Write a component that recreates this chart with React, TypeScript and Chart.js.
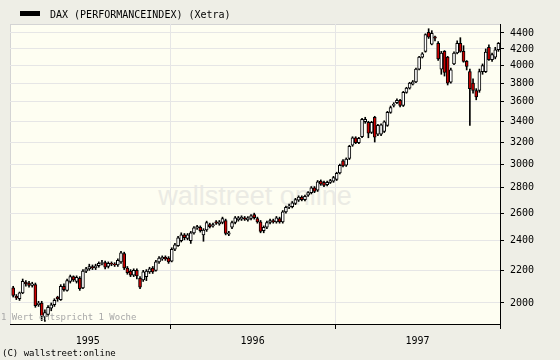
import React, { useEffect, useRef } from 'react';
import { Chart, registerables } from 'chart.js';

Chart.register(...registerables);

const chartTitle = 'DAX (PERFORMANCEINDEX) (Xetra)';
const noteText = '1 Wert entspricht 1 Woche';
const copyrightText = '(C) wallstreet:online';
const watermarkText = 'wallstreet online';

const yearLabels = ['1995', '1996', '1997'];
// week index (counted from the first week of 1995) where each year starts
const yearStartWeeks = [0, 52, 104, 156];
const priceTicks = [2000, 2200, 2400, 2600, 2800, 3000, 3200, 3400, 3600, 3800, 4000, 4200, 4400];

// first plotted week index; one candle = one week
const firstWeek = 2;

const opens = [
  2090, 2040, 2025, 2060, 2125, 2120, 2105, 2110, 1990, 2000,
  1920, 1935, 1970, 1990, 2035, 2020, 2100, 2075, 2130, 2160,
  2130, 2150, 2090, 2195, 2210, 2225, 2215, 2230, 2245, 2250,
  2225, 2245, 2240, 2235, 2255, 2310, 2215, 2195, 2170, 2200,
  2150, 2140, 2160, 2190, 2215, 2200, 2255, 2275, 2285, 2280,
  2260, 2340, 2365, 2400, 2440, 2415, 2400, 2455, 2490, 2495,
  2440, 2475, 2515, 2505, 2535, 2520, 2530, 2545, 2445, 2495,
  2530, 2550, 2555, 2565, 2550, 2560, 2590, 2560, 2535, 2470,
  2495, 2530, 2545, 2535, 2560, 2535, 2610, 2645, 2650, 2675,
  2700, 2725, 2705, 2740, 2760, 2800, 2780, 2855, 2845, 2825,
  2845, 2855, 2870, 2925, 3030, 2990, 3050, 3170, 3240, 3195,
  3250, 3395, 3390, 3290, 3440, 3275, 3275, 3300, 3360, 3490,
  3560, 3590, 3615, 3560, 3700, 3745, 3790, 3815, 3960, 4100,
  4170, 4410, 4260, 4350, 4270, 3960, 4170, 4100, 3810, 4020,
  4150, 4270, 4170, 4050, 3930, 3800, 3720, 3720, 3930, 3930,
  4220, 4070, 4100, 4190,
];

const closes = [
  2045, 2030, 2060, 2130, 2115, 2105, 2115, 1985, 2000, 1925,
  1945, 1975, 1990, 2015, 2025, 2100, 2080, 2135, 2160, 2140,
  2155, 2085, 2195, 2210, 2225, 2215, 2230, 2245, 2250, 2220,
  2245, 2240, 2235, 2265, 2315, 2215, 2185, 2170, 2200, 2165,
  2095, 2190, 2195, 2210, 2190, 2255, 2280, 2285, 2275, 2255,
  2340, 2370, 2420, 2440, 2420, 2440, 2455, 2490, 2500, 2470,
  2475, 2530, 2500, 2515, 2525, 2535, 2560, 2450, 2455, 2530,
  2565, 2565, 2570, 2555, 2565, 2580, 2565, 2535, 2465, 2495,
  2530, 2545, 2535, 2565, 2535, 2610, 2645, 2655, 2680, 2705,
  2725, 2705, 2730, 2760, 2800, 2770, 2850, 2830, 2820, 2845,
  2860, 2885, 2920, 2990, 2985, 3045, 3160, 3240, 3195, 3235,
  3420, 3420, 3285, 3390, 3245, 3360, 3365, 3395, 3490, 3540,
  3575, 3615, 3560, 3700, 3745, 3800, 3815, 3960, 4100, 4140,
  4380, 4345, 4395, 4335, 4080, 4150, 3920, 3800, 3950, 4150,
  4270, 4170, 4050, 3990, 3740, 3720, 3650, 3930, 4000, 4160,
  4070, 4130, 4190, 4270,
];

const highs = [
  2100, 2050, 2065, 2145, 2135, 2130, 2125, 2120, 2010, 2010,
  1960, 1985, 2000, 2025, 2040, 2110, 2115, 2145, 2170, 2165,
  2165, 2160, 2205, 2220, 2240, 2235, 2240, 2255, 2265, 2260,
  2255, 2255, 2250, 2275, 2325, 2320, 2225, 2205, 2210, 2210,
  2160, 2200, 2205, 2220, 2225, 2265, 2290, 2295, 2295, 2290,
  2350, 2380, 2430, 2455, 2450, 2450, 2465, 2500, 2510, 2505,
  2485, 2540, 2525, 2525, 2545, 2545, 2570, 2555, 2465, 2540,
  2575, 2575, 2580, 2575, 2575, 2590, 2600, 2570, 2545, 2505,
  2540, 2555, 2555, 2575, 2570, 2620, 2655, 2670, 2690, 2715,
  2735, 2735, 2740, 2770, 2810, 2810, 2860, 2865, 2855, 2855,
  2870, 2895, 2930, 3000, 3040, 3055, 3170, 3250, 3250, 3245,
  3430, 3440, 3400, 3400, 3450, 3370, 3375, 3405, 3500, 3555,
  3590, 3630, 3625, 3710, 3755, 3810, 3830, 3970, 4110, 4155,
  4390, 4455, 4430, 4360, 4290, 4170, 4180, 4110, 3970, 4165,
  4300, 4340, 4240, 4060, 3960, 3850, 3740, 3960, 4020, 4200,
  4250, 4150, 4220, 4280,
];

const lows = [
  2035, 2020, 2015, 2055, 2100, 2095, 2095, 1975, 1980, 1900,
  1895, 1925, 1955, 1980, 2010, 2015, 2070, 2070, 2120, 2130,
  2120, 2075, 2085, 2185, 2200, 2205, 2205, 2220, 2235, 2210,
  2215, 2230, 2225, 2225, 2245, 2205, 2175, 2160, 2160, 2145,
  2085, 2130, 2135, 2180, 2180, 2195, 2245, 2265, 2265, 2245,
  2255, 2330, 2360, 2390, 2405, 2405, 2380, 2445, 2480, 2460,
  2395, 2465, 2490, 2495, 2515, 2510, 2520, 2440, 2435, 2485,
  2520, 2540, 2545, 2545, 2540, 2550, 2555, 2525, 2455, 2455,
  2485, 2520, 2525, 2525, 2525, 2525, 2600, 2635, 2640, 2665,
  2690, 2695, 2695, 2730, 2750, 2760, 2770, 2820, 2810, 2815,
  2835, 2845, 2860, 2915, 2975, 2980, 3040, 3160, 3185, 3185,
  3240, 3380, 3240, 3280, 3200, 3260, 3260, 3290, 3350, 3480,
  3545, 3580, 3545, 3550, 3690, 3735, 3780, 3805, 3950, 4090,
  4160, 4330, 4250, 4300, 4060, 3900, 3880, 3780, 3800, 4010,
  4140, 4160, 4040, 3950, 3360, 3690, 3620, 3700, 3900, 3920,
  4060, 4050, 4080, 4170,
];

const mono = '"DejaVu Sans Mono", "Liberation Mono", monospace';
const gridColor = '#e6e6e6';
const downColor = '#cc0000';
const upColor = '#ffffff';

export default function App() {
  const canvasRef = useRef<HTMLCanvasElement | null>(null);

  useEffect(() => {
    document.body.style.margin = '0';
    const canvas = canvasRef.current;
    if (!canvas) return;

    const weeks = opens.map((_, i) => firstWeek + i);
    const boundaries = yearStartWeeks.slice(1).map((w) => w - 0.5);
    const mids = yearLabels.map((_, i) => (yearStartWeeks[i] + yearStartWeeks[i + 1]) / 2 - 0.5);
    const xTickValues = [...boundaries, ...mids].sort((a, b) => a - b);
    const isBoundary = (v: number) => boundaries.some((b) => Math.abs(b - v) < 1e-6);
    const labelFor = (v: number) => {
      const i = mids.findIndex((m) => Math.abs(m - v) < 1e-6);
      return i >= 0 ? yearLabels[i] : '';
    };

    const chart = new Chart(canvas, {
      type: 'bar',
      data: {
        datasets: [
          {
            label: 'range',
            data: weeks.map((w, i) => ({ x: w, y: [lows[i], highs[i]] })) as any,
            backgroundColor: '#000000',
            borderWidth: 0,
            barThickness: 1,
            grouped: false,
            order: 2,
          },
          {
            label: chartTitle,
            data: weeks.map((w, i) => ({ x: w, y: [opens[i], closes[i]] })) as any,
            backgroundColor: closes.map((c, i) => (c < opens[i] ? downColor : upColor)),
            borderColor: '#000000',
            borderWidth: 1,
            borderSkipped: false,
            barThickness: 3,
            grouped: false,
            order: 1,
          },
        ],
      },
      options: {
        responsive: true,
        maintainAspectRatio: false,
        animation: false,
        layout: { padding: { left: 10, top: 24, right: 0, bottom: 0 } },
        plugins: { legend: { display: false }, tooltip: { enabled: false } },
        scales: {
          x: {
            type: 'linear',
            position: 'bottom',
            min: 1,
            max: 155.5,
            offset: false,
            afterFit: (s: any) => {
              s.height = 36;
            },
            afterBuildTicks: (s: any) => {
              s.ticks = xTickValues.map((v) => ({ value: v }));
            },
            grid: {
              offset: false,
              color: (ctx: any) => (ctx.tick && isBoundary(ctx.tick.value) ? gridColor : 'rgba(0,0,0,0)'),
              tickColor: (ctx: any) => (ctx.tick && isBoundary(ctx.tick.value) ? '#000000' : 'rgba(0,0,0,0)'),
              tickLength: 5,
            },
            border: { color: '#000000', width: 1 },
            ticks: {
              autoSkip: false,
              maxRotation: 0,
              padding: 6,
              color: '#000000',
              font: { family: mono, size: 10 },
              callback: (v: any) => labelFor(Number(v)),
            },
          },
          y: {
            type: 'logarithmic',
            position: 'right',
            min: 1881,
            max: 4517,
            afterFit: (s: any) => {
              s.width = 60;
            },
            afterBuildTicks: (s: any) => {
              s.ticks = priceTicks.map((v) => ({ value: v }));
            },
            grid: { color: gridColor, tickColor: '#000000', tickLength: 4 },
            border: { color: '#000000', width: 1 },
            ticks: {
              padding: 6,
              color: '#000000',
              font: { family: mono, size: 10 },
              callback: (v: any) => String(v),
            },
          },
        },
      } as any,
    });

    return () => chart.destroy();
  }, []);

  return (
    <div
      style={{
        position: 'relative',
        width: 560,
        height: 360,
        background: '#eeeee6',
        overflow: 'hidden',
        fontFamily: mono,
      }}
    >
      <div
        style={{
          position: 'absolute',
          left: 10,
          top: 24,
          width: 490,
          height: 300,
          background: '#fefef2',
          borderLeft: '1px solid #d4d4d4',
          borderTop: '1px solid #d4d4d4',
          boxSizing: 'border-box',
        }}
      />
      <div
        style={{
          position: 'absolute',
          left: 140,
          top: 180,
          width: 230,
          textAlign: 'center',
          fontFamily: '"Liberation Sans", Arial, sans-serif',
          fontSize: 27,
          lineHeight: '32px',
          color: '#ebebe4',
          whiteSpace: 'nowrap',
        }}
      >
        {watermarkText}
      </div>
      <div style={{ position: 'absolute', left: 0, top: 0, width: 560, height: 360 }}>
        <canvas ref={canvasRef} />
      </div>
      <div style={{ position: 'absolute', left: 20, top: 11, width: 20, height: 5, background: '#000' }} />
      <div
        style={{
          position: 'absolute',
          left: 50,
          top: 9,
          fontSize: 10,
          lineHeight: '12px',
          color: '#000',
          whiteSpace: 'nowrap',
        }}
      >
        {chartTitle}
      </div>
      <div
        style={{
          position: 'absolute',
          left: 1,
          top: 312,
          fontSize: 9,
          lineHeight: '11px',
          color: '#a8a8a8',
          whiteSpace: 'nowrap',
        }}
      >
        {noteText}
      </div>
      <div
        style={{
          position: 'absolute',
          left: 2,
          top: 348,
          fontSize: 9,
          lineHeight: '11px',
          color: '#000',
          whiteSpace: 'nowrap',
        }}
      >
        {copyrightText}
      </div>
    </div>
  );
}
